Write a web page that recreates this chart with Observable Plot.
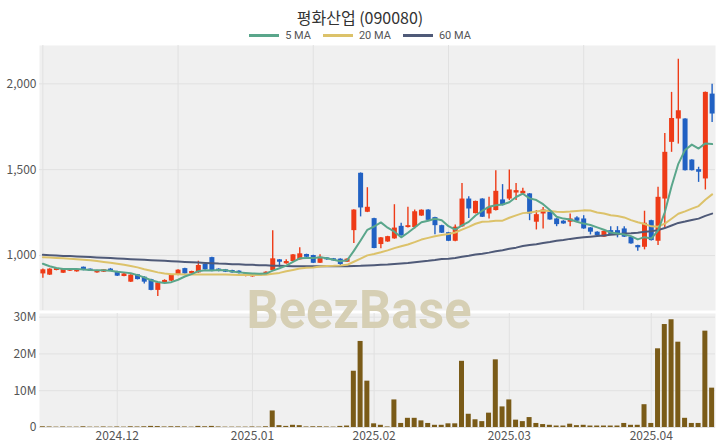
<!DOCTYPE html>
<html>
<head>
<meta charset="utf-8">
<script src="https://cdn.jsdelivr.net/npm/d3@7"></script>
<script src="https://cdn.jsdelivr.net/npm/@observablehq/plot@0.6"></script>
<style>
html,body{margin:0;padding:0;background:#fff;}
#chart{position:relative;width:720px;height:448px;overflow:hidden;font-family:"Noto Sans CJK KR","Noto Sans",sans-serif;}
#title{position:absolute;left:0;top:9px;width:720px;text-align:center;font-size:16px;color:#333;line-height:16px;}
#legend{position:absolute;left:0;top:30px;width:720px;display:flex;justify-content:center;gap:12px;font-size:11px;color:#555;line-height:11px;font-family:Roboto,"Noto Sans",sans-serif;}
.item{display:flex;align-items:center;gap:6px;}
.swatch{width:30px;height:2.5px;}
#price{position:absolute;left:0;top:0;}
#volume{position:absolute;left:0;top:310px;}
#wm{position:absolute;left:0;top:0;pointer-events:none;}
svg{overflow:visible;}
</style>
</head>
<body>
<div id="chart">
  <div id="price"></div>
  <div id="volume"></div>
  <div id="title"></div>
  <div id="legend"></div>
</div>
<script>
const titleText = "평화산업 (090080)";
const seriesNames = ["5 MA", "20 MA", "60 MA"];
const monthLabels = ["2024.12", "2025.01", "2025.02", "2025.03", "2025.04"];
const priceTicks = [1000, 1500, 2000];
const volumeTicks = [0, 10e6, 20e6, 30e6];
const priceGridIdx = [0, 20, 40, 60, 80];

const dates = [
 "2024-11-15","2024-11-18","2024-11-19","2024-11-20","2024-11-21","2024-11-22","2024-11-25","2024-11-26","2024-11-27","2024-11-28","2024-11-29",
 "2024-12-02","2024-12-03","2024-12-04","2024-12-05","2024-12-06","2024-12-09","2024-12-10","2024-12-11","2024-12-12","2024-12-13",
 "2024-12-16","2024-12-17","2024-12-18","2024-12-19","2024-12-20","2024-12-23","2024-12-24","2024-12-26","2024-12-27","2024-12-30",
 "2025-01-02","2025-01-03","2025-01-06","2025-01-07","2025-01-08","2025-01-09","2025-01-10","2025-01-13","2025-01-14","2025-01-15",
 "2025-01-16","2025-01-17","2025-01-20","2025-01-21","2025-01-22","2025-01-23","2025-01-24","2025-01-31",
 "2025-02-03","2025-02-04","2025-02-05","2025-02-06","2025-02-07","2025-02-10","2025-02-11","2025-02-12","2025-02-13","2025-02-14",
 "2025-02-17","2025-02-18","2025-02-19","2025-02-20","2025-02-21","2025-02-24","2025-02-25","2025-02-26","2025-02-27","2025-02-28",
 "2025-03-03","2025-03-04","2025-03-05","2025-03-06","2025-03-07","2025-03-10","2025-03-11","2025-03-12","2025-03-13","2025-03-14",
 "2025-03-17","2025-03-18","2025-03-19","2025-03-20","2025-03-21","2025-03-24","2025-03-25","2025-03-26","2025-03-27","2025-03-28","2025-03-31",
 "2025-04-01","2025-04-02","2025-04-03","2025-04-04","2025-04-07","2025-04-08","2025-04-09","2025-04-10","2025-04-11","2025-04-14"
];

const open = [
 893,886,913,897,909,905,932,921,899,903,
 921,907,878,845,888,874,860,797,841,851,
 884,924,893,899,948,988,921,917,913,909,
 878,876,880,890,913,975,952,965,975,1006,
 1000,955,986,981,979,961,1145,1479,1252,1215,
 1064,1079,1097,1170,1163,1163,1230,1265,1221,1174,
 1133,1083,1167,1329,1244,1329,1242,1262,1324,1329,
 1364,1359,1359,1194,1242,1252,1213,1200,1194,1219,
 1213,1161,1136,1107,1145,1145,1155,1107,1058,1048,
 1203,1083,1329,1659,1795,1795,1556,1500,1446,1940
];
const high = [
 922,923,926,923,922,918,933,922,914,918,
 925,909,895,888,890,876,862,843,859,890,
 917,926,909,967,950,990,923,919,915,911,
 895,893,895,905,1145,977,975,1006,1045,1008,
 1002,1004,988,983,981,981,1267,1481,1395,1217,
 1105,1112,1296,1188,1281,1265,1266,1267,1223,1176,
 1135,1178,1420,1343,1317,1331,1339,1494,1413,1498,
 1420,1392,1361,1262,1280,1254,1215,1203,1242,1226,
 1232,1163,1138,1143,1168,1168,1168,1109,1060,1258,
 1205,1397,1711,1950,2143,1797,1558,1514,1952,1998
];
const low = [
 868,884,911,895,907,903,911,907,897,901,
 907,878,876,843,858,835,795,762,839,849,
 882,891,891,897,915,905,905,901,897,893,
 876,874,878,888,911,932,950,963,973,988,
 953,953,973,967,940,959,1070,1225,1250,1039,
 1039,1077,1095,1112,1161,1155,1228,1203,1121,1128,
 1081,1081,1165,1215,1242,1221,1213,1260,1289,1320,
 1320,1355,1203,1149,1155,1205,1168,1182,1168,1198,
 1153,1120,1107,1105,1120,1103,1105,1066,1025,1033,
 1085,1058,1160,1601,1649,1492,1492,1426,1382,1775
];
const close = [
 917,921,924,921,921,917,913,909,913,917,
 909,880,893,886,860,845,797,841,855,888,
 915,893,907,942,917,907,907,903,899,895,
 893,891,893,903,981,961,965,1004,1010,990,
 955,990,975,969,948,979,1265,1277,1281,1041,
 1103,1110,1160,1116,1174,1255,1264,1205,1174,1130,
 1083,1165,1329,1271,1315,1223,1281,1374,1291,1382,
 1378,1374,1242,1238,1265,1207,1180,1184,1213,1200,
 1155,1136,1116,1141,1122,1126,1107,1068,1045,1188,
 1087,1339,1601,1798,1843,1494,1494,1485,1950,1824
];
// volume in millions of shares
const volumeM = [
 0.2,0.15,0.1,0.15,0.1,0.1,0.2,0.1,0.1,0.15,
 0.1,0.15,0.1,0.2,0.15,0.2,0.3,0.25,0.15,0.2,
 0.2,0.15,0.1,0.3,0.2,0.3,0.15,0.1,0.1,0.1,
 0.1,0.15,0.1,0.2,4.5,0.5,0.3,0.6,0.5,0.15,
 0.2,0.2,0.15,0.1,0.3,0.4,15.3,23.4,12.6,1.0,
 0.6,0.15,7.5,1.1,2.5,2.5,1.8,1.1,0.6,0.6,
 1.0,1.0,18.0,3.6,2.1,1.6,3.9,18.4,5.6,7.5,
 2.0,1.6,2.7,1.1,0.8,0.6,0.4,0.4,0.9,0.5,
 0.6,0.4,0.4,0.4,0.4,0.4,1.1,0.6,0.6,6.2,
 1.1,21.4,28.0,29.3,23.2,2.5,1.1,1.1,26.2,10.7
];
const ma5 = [
 952,938,927,922,921,921,919,916,915,914,
 912,906,902,897,886,873,856,846,840,845,
 859,878,892,909,915,913,916,915,907,902,
 899,896,894,895,912,926,941,963,984,986,
 985,990,984,976,967,972,1027,1088,1150,1169,
 1193,1162,1139,1106,1133,1163,1194,1203,1214,1206,
 1171,1151,1176,1196,1233,1261,1284,1293,1297,1310,
 1341,1360,1333,1323,1299,1265,1226,1215,1210,1197,
 1186,1178,1164,1150,1134,1128,1122,1113,1094,1107,
 1099,1145,1252,1403,1534,1615,1646,1623,1653,1649
];
const ma20 = [
 990,988,986,984,982,979,976,972,968,963,
 958,952,946,939,931,920,911,902,895,891,
 891,890,889,890,890,889,889,889,888,887,
 886,887,887,888,894,899,908,916,924,929,
 931,936,939,940,942,946,964,982,1001,1009,
 1019,1030,1043,1054,1064,1078,1093,1103,1112,1119,
 1125,1134,1151,1167,1185,1197,1198,1203,1203,1220,
 1234,1247,1251,1257,1262,1260,1255,1254,1256,1260,
 1263,1262,1251,1245,1235,1230,1222,1206,1194,1184,
 1170,1168,1186,1214,1243,1257,1273,1288,1325,1356
];
const ma60 = [
 1004,1002,1000,998,997,995,993,991,989,987,
 985,983,981,979,977,975,973,971,969,967,
 965,963,961,959,957,955,953,952,950,949,
 947,946,944,943,941,940,939,938,938,937,
 937,937,937,937,938,938,939,940,942,944,
 946,948,951,954,957,961,965,969,974,980,
 982,986,993,999,1006,1011,1017,1025,1031,1039,
 1046,1055,1061,1066,1073,1079,1086,1091,1097,1102,
 1106,1110,1114,1117,1121,1124,1128,1130,1133,1138,
 1141,1148,1160,1175,1190,1198,1207,1215,1231,1244
];

const UP = "#ee3b17", DOWN = "#2161c3";
const MA_COLORS = ["#5aa68b", "#dcc26a", "#4f5a78"];
const BG = "#f0f0f0", GRID = "#e1e1e1";
const FONT = "'Noto Sans CJK KR','Noto Sans',sans-serif";

const n = dates.length;
const rows = dates.map((date, i) => ({
  i, date, open: open[i], high: high[i], low: low[i], close: close[i],
  volume: volumeM[i] * 1e6, ma5: ma5[i], ma20: ma20[i], ma60: ma60[i]
}));
const candleColor = d => d.close >= d.open ? UP : DOWN;
const monthIndex = monthLabels.map(m => dates.findIndex(d => d.slice(0, 7).replace("-", ".") === m));
const labelByIndex = new Map(monthIndex.map((k, j) => [k, monthLabels[j]]));

document.getElementById("title").textContent = titleText;
const legend = document.getElementById("legend");
seriesNames.forEach((name, j) => {
  const it = document.createElement("div");
  it.className = "item";
  const sw = document.createElement("div");
  sw.className = "swatch";
  sw.style.background = MA_COLORS[j];
  const tx = document.createElement("span");
  tx.textContent = name;
  it.appendChild(sw); it.appendChild(tx);
  legend.appendChild(it);
});

const xDomain = [-0.5, n - 0.5];

const price = Plot.plot({
  width: 720, height: 310,
  marginTop: 45, marginBottom: 0, marginLeft: 39, marginRight: 5,
  style: {background: "transparent", fontSize: "12px", fontFamily: FONT, color: "#555", overflow: "visible"},
  x: {type: "linear", domain: xDomain, axis: null},
  y: {domain: [680, 2223], label: null},
  marks: [
    Plot.frame({fill: BG, stroke: "none"}),
    Plot.ruleY(priceTicks, {stroke: GRID}),
    Plot.ruleX(priceGridIdx, {stroke: GRID}),
    Plot.axisY(priceTicks, {tickSize: 0, tickPadding: 3, tickFormat: d3.format(","), label: null, fill: "#555"}),
    Plot.ruleX(rows, {x: "i", y1: "low", y2: "high", stroke: candleColor, strokeWidth: 1.4}),
    Plot.ruleX(rows, {x: "i", y1: "open", y2: "close", stroke: candleColor, strokeWidth: 5}),
    Plot.lineY(rows, {x: "i", y: "ma60", stroke: MA_COLORS[2], strokeWidth: 2}),
    Plot.lineY(rows, {x: "i", y: "ma20", stroke: MA_COLORS[1], strokeWidth: 2}),
    Plot.lineY(rows, {x: "i", y: "ma5", stroke: MA_COLORS[0], strokeWidth: 2})
  ]
});
document.getElementById("price").appendChild(price);

const vol = Plot.plot({
  width: 720, height: 138,
  marginTop: 3, marginBottom: 21, marginLeft: 39, marginRight: 5,
  style: {background: "transparent", fontSize: "12px", fontFamily: FONT, color: "#555", overflow: "visible"},
  x: {type: "linear", domain: xDomain, label: null},
  y: {domain: [0, 31e6], label: null},
  marks: [
    Plot.frame({fill: BG, stroke: "none"}),
    Plot.ruleY(volumeTicks, {stroke: GRID}),
    Plot.ruleX(monthIndex, {stroke: GRID}),
    Plot.rectY(rows, {x1: d => d.i - 0.37, x2: d => d.i + 0.37, y: "volume", fill: "#7a5b18"}),
    Plot.axisY(volumeTicks, {tickSize: 0, tickPadding: 3, tickFormat: v => v === 0 ? "0" : (v / 1e6) + "M", label: null, fill: "#555"}),
    Plot.axisX(monthIndex, {tickSize: 0, tickPadding: 4, tickFormat: k => labelByIndex.get(k), label: null, fill: "#555"})
  ]
});
document.getElementById("volume").appendChild(vol);

// watermark
const wm = d3.select("#chart").append("svg").attr("id", "wm").attr("width", 720).attr("height", 448);
wm.append("text").attr("x", 359).attr("y", 328).attr("text-anchor", "middle")
  .attr("font-family", "Roboto, 'Liberation Sans', sans-serif").attr("font-weight", 700)
  .attr("font-size", 53).attr("fill", "#d6cfb4")
  .attr("textLength", 225).attr("lengthAdjust", "spacingAndGlyphs")
  .text("BeezBase");
</script>
</body>
</html>
